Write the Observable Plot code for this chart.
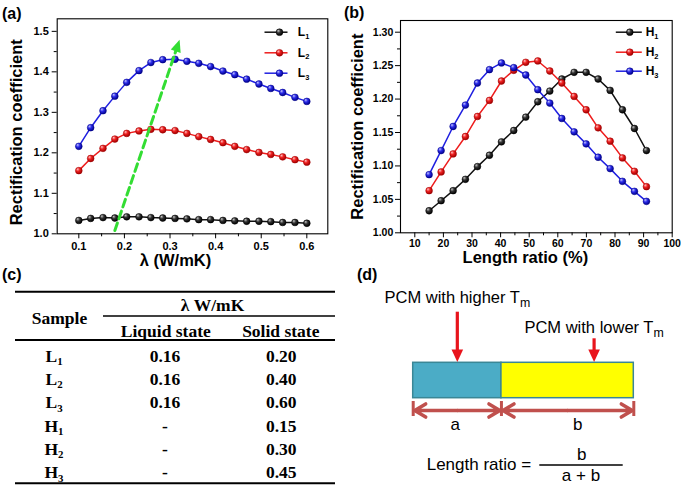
<!DOCTYPE html>
<html>
<head>
<meta charset="utf-8">
<script src="https://cdn.jsdelivr.net/npm/d3@7"></script>
<script src="https://cdn.jsdelivr.net/npm/@observablehq/plot@0.6"></script>
<style>
  html, body { margin: 0; padding: 0; background: #fff; }
  #fig { position: relative; width: 685px; height: 491px; overflow: hidden; background: #fff; }
  .pane { position: absolute; }
  .pane svg { display: block; overflow: visible; }
  .plabel { position: absolute; font: bold 16px "Liberation Sans", Arial, sans-serif; color: #000; line-height: 1; }
</style>
</head>
<body>
<div id="fig">
  <div class="pane" id="pa" style="left:0px;top:0px"></div>
  <div class="pane" id="pb" style="left:340px;top:0px"></div>
  <div class="pane" id="pc" style="left:0px;top:270px"></div>
  <div class="pane" id="pd" style="left:345px;top:270px"></div>
  <div class="plabel" style="left:2px;top:6px">(a)</div>
  <div class="plabel" style="left:344px;top:5px">(b)</div>
  <div class="plabel" style="left:2px;top:267px">(c)</div>
  <div class="plabel" style="left:357px;top:267px">(d)</div>
</div>
<script>
// ---------------- Panel (a) data ----------------
const lambda = [0.100,0.126,0.153,0.179,0.205,0.232,0.258,0.284,0.311,0.337,0.363,0.389,0.416,0.442,0.468,0.495,0.521,0.547,0.574,0.600];
const seriesL = ["L1","L2","L3"];
const rcL1 = [1.033,1.038,1.040,1.039,1.042,1.042,1.040,1.039,1.038,1.037,1.035,1.035,1.033,1.032,1.031,1.031,1.030,1.028,1.028,1.026];
const rcL2 = [1.156,1.186,1.211,1.234,1.248,1.254,1.258,1.257,1.255,1.248,1.240,1.233,1.225,1.216,1.208,1.201,1.196,1.190,1.183,1.177];
const rcL3 = [1.216,1.262,1.304,1.340,1.374,1.403,1.423,1.430,1.431,1.426,1.421,1.413,1.402,1.393,1.382,1.370,1.359,1.349,1.337,1.327];
const aXTicks = [0.1,0.2,0.3,0.4,0.5,0.6];
const aXMinor = [0.15,0.25,0.35,0.45,0.55];
const aYTicks = [1.0,1.1,1.2,1.3,1.4,1.5];
const aYMinor = [1.05,1.15,1.25,1.35,1.45];
const trendX = [0.179, 0.321];   // green dashed trend arrow: start, tip
const trendY = [1.008, 1.479];

// ---------------- Panel (b) data ----------------
const lengthRatio = [15.0,19.2,23.4,27.7,31.9,36.1,40.3,44.6,48.8,53.0,57.2,61.4,65.7,69.9,74.1,78.3,82.6,86.8,91.0];
const seriesH = ["H1","H2","H3"];
const rcH1 = [1.033,1.048,1.063,1.080,1.099,1.116,1.136,1.153,1.173,1.196,1.212,1.230,1.240,1.240,1.230,1.213,1.184,1.156,1.123];
const rcH2 = [1.063,1.091,1.118,1.144,1.174,1.198,1.227,1.243,1.255,1.257,1.242,1.224,1.204,1.184,1.157,1.137,1.112,1.092,1.069];
const rcH3 = [1.087,1.123,1.159,1.191,1.224,1.244,1.254,1.247,1.236,1.214,1.194,1.171,1.151,1.133,1.113,1.096,1.077,1.062,1.047];
const bXTicks = [10,20,30,40,50,60,70,80,90,100];
const bXMinor = [15,25,35,45,55,65,75,85,95];
const bYTicks = [1.00,1.05,1.10,1.15,1.20,1.25,1.30];
const bYMinor = [1.025,1.075,1.125,1.175,1.225,1.275];

// ---------------- Panel (c) data ----------------
const tableSamples = ["L_1","L_2","L_3","H_1","H_2","H_3"];
const tableLiquid = ["0.16","0.16","0.16","-","-","-"];
const tableSolid = ["0.20","0.40","0.60","0.15","0.30","0.45"];

// ---------------- Panel (d) data ----------------
const segNames = ["a","b"];
const segLengths = [40, 60];
const pcmLabels = ["PCM with higher T_m", "PCM with lower T_m"];
const pcmArrowAt = [20, 82];

// ---------------- helpers ----------------
const SANS = "'Liberation Sans', Arial, Helvetica, sans-serif";
const SERIF = "'Liberation Serif', 'Times New Roman', serif";

function subscriptify(root, scale, shift) {
  d3.select(root).selectAll("text").each(function () {
    const t = this.textContent;
    if (!t.includes("_")) return;
    const [base, sub] = t.split("_");
    const sel = d3.select(this);
    sel.text(base);
    sel.append("tspan").attr("font-size", scale + "em").attr("dy", shift + "em").text(sub);
  });
}

function gradientDefs(list) {
  return () => {
    const defs = d3.create("svg:defs");
    for (const g of list) {
      const rg = defs.append("radialGradient").attr("id", g.id)
        .attr("cx", "40%").attr("cy", "38%").attr("r", "62%").attr("fx", "32%").attr("fy", "28%");
      rg.append("stop").attr("offset", "0%").attr("stop-color", g.hi);
      rg.append("stop").attr("offset", "45%").attr("stop-color", g.mid);
      rg.append("stop").attr("offset", "100%").attr("stop-color", g.lo);
    }
    return defs.node();
  };
}

const hLine = (a, b) => ({ draw(ctx) { ctx.moveTo(a, 0); ctx.lineTo(b, 0); } });

function lineChart(o) {
  const marks = [gradientDefs(o.grads)];
  marks.push(Plot.frame({stroke: "#000", strokeWidth: 1.1}));
  marks.push(Plot.axisX({ticks: o.xTicks, tickSize: 5, tickPadding: o.xPad, tickFormat: o.xFmt, label: null, fontWeight: "bold", fontSize: o.tickFont}));
  marks.push(Plot.axisX({ticks: o.xMinor, tickSize: 3, tickFormat: () => "", label: null}));
  marks.push(Plot.axisY({ticks: o.yTicks, tickSize: 5, tickPadding: o.yPad, tickFormat: o.yFmt, label: null, fontWeight: "bold", fontSize: o.tickFont}));
  marks.push(Plot.axisY({ticks: o.yMinor, tickSize: 3, tickFormat: () => "", label: null}));
  o.names.forEach((n, k) => {
    const rows = o.xs.map((x, i) => ({x, y: o.ys[k][i]}));
    marks.push(Plot.line(rows, {x: "x", y: "y", stroke: o.colors[k], strokeWidth: 1.5}));
    marks.push(Plot.dot(rows, {x: "x", y: "y", r: o.r, fill: `url(#${o.grads[k].id})`, stroke: o.grads[k].lo, strokeWidth: 0.5}));
  });
  if (o.extra) marks.push(...o.extra);
  o.names.forEach((n, k) => {
    const dy = o.legend.dy[k];
    marks.push(Plot.dot([n], {frameAnchor: "top-right", dx: o.legend.markerDx, dy, symbol: hLine(o.legend.l1, o.legend.l2), fill: "none", stroke: o.colors[k], strokeWidth: 1.5, r: 1}));
    marks.push(Plot.dot([n], {frameAnchor: "top-right", dx: o.legend.markerDx, dy, r: o.r, fill: `url(#${o.grads[k].id})`, stroke: o.grads[k].lo, strokeWidth: 0.5}));
    marks.push(Plot.text([n], {frameAnchor: "top-right", dx: o.legend.textDx, dy, text: d => d[0] + "_" + d.slice(1), textAnchor: "start", lineAnchor: "middle", fontSize: o.legend.fontSize, fontWeight: "bold"}));
  });
  marks.push(Plot.text([o.xTitle], {frameAnchor: "bottom", dx: o.xTitleDx, dy: o.xTitleDy, text: d => d, textAnchor: "middle", lineAnchor: "middle", fontSize: o.titleFont, fontWeight: "bold"}));
  marks.push(Plot.text([o.yTitle], {frameAnchor: "left", dx: o.yTitleDx, dy: o.yTitleDy, text: d => d, rotate: -90, textAnchor: "middle", lineAnchor: "middle", fontSize: o.titleFont, fontWeight: "bold"}));
  const chart = Plot.plot({
    width: o.width, height: o.height,
    marginLeft: o.m[0], marginRight: o.m[1], marginTop: o.m[2], marginBottom: o.m[3],
    x: {domain: o.xDomain, label: null},
    y: {domain: o.yDomain, label: null},
    style: {fontFamily: SANS, fontSize: o.tickFont + "px", fontWeight: "bold", color: "#000", background: "none", overflow: "visible"},
    marks
  });
  subscriptify(chart, 0.62, 0.38);
  return chart;
}

const gradsK = ["#c8c8c8", "#333333", "#000000"];
const gradsR = ["#ffc4c4", "#ee2020", "#a00000"];
const gradsB = ["#c4c4ff", "#2a2ae8", "#00008a"];
const lineColors = ["#111111", "#ee1c1c", "#1f1fe0"];

// ---------------- Panel (a) ----------------
{
  const width = 340, height = 270, m = [56.7, 12.7, 18.3, 36.7];
  const xDomain = [0.0526, 0.646], yDomain = [1.0, 1.531];
  const sx = d3.scaleLinear(xDomain, [m[0], width - m[1]]);
  const sy = d3.scaleLinear(yDomain, [height - m[3], m[2]]);
  const p0 = [sx(trendX[0]), sy(trendY[0])], p1 = [sx(trendX[1]), sy(trendY[1])];
  const len = Math.hypot(p1[0] - p0[0], p1[1] - p0[1]);
  const ux = (p1[0] - p0[0]) / len, uy = (p1[1] - p0[1]) / len;
  const headLen = 11;
  const shaftEnd = {x: sx.invert(p1[0] - ux * headLen), y: sy.invert(p1[1] - uy * headLen)};
  const angle = Math.atan2(ux, -uy) * 180 / Math.PI;
  const tri = {draw(ctx) { ctx.moveTo(0, 0); ctx.lineTo(5.2, headLen + 1); ctx.lineTo(-5.2, headLen + 1); ctx.closePath(); }};
  const green = "#33dd33";
  const extra = [
    Plot.line([{x: trendX[0], y: trendY[0]}, shaftEnd], {x: "x", y: "y", stroke: green, strokeWidth: 3, strokeDasharray: "8,4.5"}),
    Plot.dot([{x: trendX[1], y: trendY[1]}], {x: "x", y: "y", symbol: tri, rotate: angle, fill: green, stroke: "none", r: 5})
  ];
  const chart = lineChart({
    width, height, m, xDomain, yDomain,
    xs: lambda, ys: [rcL1, rcL2, rcL3], names: seriesL, colors: lineColors,
    grads: [
      {id: "ga0", hi: gradsK[0], mid: gradsK[1], lo: gradsK[2]},
      {id: "ga1", hi: gradsR[0], mid: gradsR[1], lo: gradsR[2]},
      {id: "ga2", hi: gradsB[0], mid: gradsB[1], lo: gradsB[2]}
    ],
    r: 3.4,
    xTicks: aXTicks, xMinor: aXMinor, yTicks: aYTicks, yMinor: aYMinor,
    xFmt: d => d.toFixed(1), yFmt: d => d.toFixed(1),
    xPad: 3.4, yPad: 3.4, tickFont: 11,
    xTitle: "λ (W/mK)", xTitleDx: -17, xTitleDy: 26.5,
    yTitle: "Rectification coefficient", yTitleDx: -40, yTitleDy: 6, titleFont: 16.5,
    legend: {markerDx: -48.3, l1: -15, l2: 8, textDx: -30, dy: [13.4, 34, 54.4], fontSize: 12},
    extra
  });
  document.getElementById("pa").append(chart);
}

// ---------------- Panel (b) ----------------
{
  const chart = lineChart({
    width: 345, height: 270, m: [60, 13.3, 20, 37.7],
    xDomain: [5, 100], yDomain: [1.0, 1.3175],
    xs: lengthRatio, ys: [rcH1, rcH2, rcH3], names: seriesH, colors: lineColors,
    grads: [
      {id: "gb0", hi: gradsK[0], mid: gradsK[1], lo: gradsK[2]},
      {id: "gb1", hi: gradsR[0], mid: gradsR[1], lo: gradsR[2]},
      {id: "gb2", hi: gradsB[0], mid: gradsB[1], lo: gradsB[2]}
    ],
    r: 3.4,
    xTicks: bXTicks, xMinor: bXMinor, yTicks: bYTicks, yMinor: bYMinor,
    xFmt: d => String(d), yFmt: d => d.toFixed(2),
    xPad: 2, yPad: 2.2, tickFont: 10.5,
    xTitle: "Length ratio (%)", xTitleDx: -11, xTitleDy: 25,
    yTitle: "Rectification coefficient", yTitleDx: -42.3, yTitleDy: 0, titleFont: 16.5,
    legend: {markerDx: -42.4, l1: -14, l2: 12, textDx: -26.5, dy: [11.7, 31.7, 50.7], fontSize: 12}
  });
  document.getElementById("pb").append(chart);
}

// ---------------- Panel (c): table ----------------
{
  const svg = d3.select("#pc").append("svg").attr("width", 345).attr("height", 221)
    .style("font-family", SERIF).style("font-weight", "bold").style("font-size", "17.5px");
  const rule = (y, x1, x2, w) => svg.append("line").attr("x1", x1).attr("x2", x2).attr("y1", y).attr("y2", y).attr("stroke", "#000").attr("stroke-width", w);
  rule(21.7, 15, 335, 2);
  rule(46, 103, 335, 1.3);
  rule(70, 15, 335, 2);
  rule(213.3, 15, 335, 2);
  const txt = (x, y, s) => {
    const t = svg.append("text").attr("x", x).attr("y", y).attr("text-anchor", "middle");
    if (s.includes("_")) {
      const [b, sub] = s.split("_");
      t.text(b);
      t.append("tspan").attr("font-size", "0.62em").attr("dy", "0.32em").text(sub);
    } else t.text(s);
    return t;
  };
  txt(212.5, 40.7, "λ W/mK");
  txt(59.5, 54, "Sample");
  txt(165.8, 66.7, "Liquid state");
  txt(280.8, 66.7, "Solid state");
  const rowBase = [91.7, 115, 138.4, 161.7, 185, 208.4];
  tableSamples.forEach((s, i) => {
    txt(54, rowBase[i], s);
    txt(165, rowBase[i], tableLiquid[i]);
    txt(281.3, rowBase[i], tableSolid[i]);
  });
}

// ---------------- Panel (d): schematic ----------------
{
  let acc = 0;
  const segs = segNames.map((n, i) => { const s = {name: n, start: acc, end: acc + segLengths[i]}; acc += segLengths[i]; return s; });
  const segFills = ["#4bacc6", "#ffff00"];
  const red = "#e8141c", dimColor = "#c0504d", border = "#3a8796";
  const barTop = 92.3, barBottom = 127.7, tipY = 91.5, dimY = 140;
  const arrows = pcmLabels.map((label, i) => ({label, x: pcmArrowAt[i], top: [41.7, 68.3][i], textY: [27.5, 57.5][i]}));
  const downTri = {draw(ctx) { ctx.moveTo(0, 0); ctx.lineTo(-5.8, -12.5); ctx.lineTo(5.8, -12.5); ctx.closePath(); }};
  const halves = segs.flatMap(s => { const mid = (s.start + s.end) / 2; return [{x1: mid, x2: s.start}, {x1: mid, x2: s.end}]; });
  const bounds = [0, ...segs.map(s => s.end)];
  const marks = [
    ...segs.map((s, i) => Plot.rect([s], {x1: "start", x2: "end", y1: () => barTop, y2: () => barBottom, fill: segFills[i], stroke: border, strokeWidth: 1.5})),
    Plot.ruleX(arrows, {x: "x", y1: "top", y2: () => tipY - 10, stroke: red, strokeWidth: 3.2}),
    Plot.dot(arrows, {x: "x", y: () => tipY, symbol: downTri, fill: red, stroke: "none", r: 5}),
    Plot.text(arrows, {x: "x", y: "textY", text: "label", fontSize: 16.5, fontWeight: "normal"}),
    Plot.ruleX(bounds, {x: d => d, y1: () => dimY - 9, y2: () => dimY + 6, stroke: dimColor, strokeWidth: 3}),
    Plot.arrow(halves, {x1: "x1", x2: "x2", y1: () => dimY, y2: () => dimY, stroke: dimColor, strokeWidth: 3.5, headLength: 5.5, headAngle: 62, insetEnd: 1.5}),
    ...segs.map((s, i) => Plot.text([s], {x: d => (d.start + d.end) / 2, y: () => 154, dx: [-2, 10][i], text: "name", fontSize: 17, fontWeight: "normal"}))
  ];
  const chart = Plot.plot({
    width: 340, height: 221, margin: 0,
    x: {domain: [0, 100], range: [67.7, 288.3], axis: null},
    y: {domain: [0, 221], range: [0, 221], axis: null},
    style: {fontFamily: SANS, fontSize: "16.5px", color: "#000", background: "none", overflow: "visible"},
    marks
  });
  subscriptify(chart, 0.75, 0.28);
  document.getElementById("pd").append(chart);

  // formula: Length ratio = b / (a + b)
  const svg = d3.select("#pd").append("svg").attr("width", 340).attr("height", 221)
    .style("position", "absolute").style("left", "0px").style("top", "0px")
    .style("font-family", SANS).style("font-size", "17px");
  svg.append("text").attr("x", 81.7).attr("y", 200).text("Length ratio =");
  svg.append("text").attr("x", 236.7).attr("y", 190).attr("text-anchor", "middle").text(segNames[1]);
  svg.append("line").attr("x1", 194.3).attr("x2", 277.7).attr("y1", 195).attr("y2", 195).attr("stroke", "#000").attr("stroke-width", 1.6);
  svg.append("text").attr("x", 236).attr("y", 210.7).attr("text-anchor", "middle").text(segNames[0] + " + " + segNames[1]);
}
</script>
</body>
</html>
